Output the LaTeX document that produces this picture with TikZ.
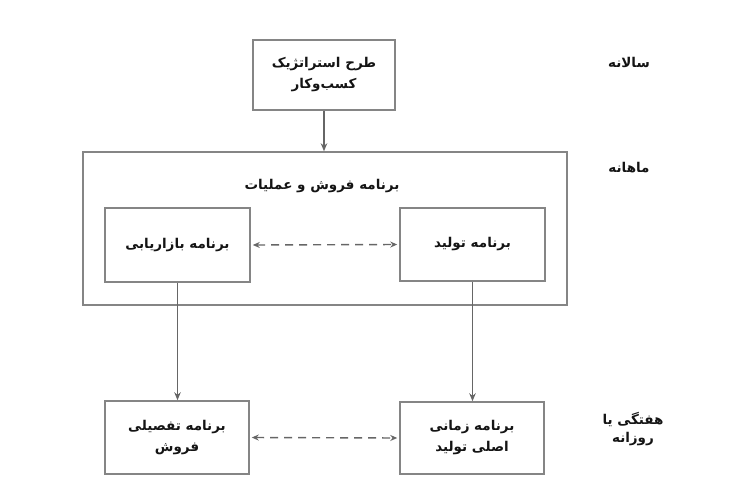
\documentclass[tikz,border=0pt]{standalone}
\usepackage{fontspec}
\usetikzlibrary{arrows.meta}
\TeXXeTstate=1
\newfontfamily\arabicfont[Script=Arabic]{DejaVu Sans}
\definecolor{framegray}{HTML}{858585}
\definecolor{linkgray}{HTML}{666666}
\newcommand{\fa}[1]{\beginR #1\endR}
\begin{document}
\begin{tikzpicture}[x=1pt,y=-1pt,
  every node/.style={font=\arabicfont\bfseries\fontsize{13.5}{21}\selectfont, text=black!92},
  planbox/.style={draw=framegray, line width=1.5pt, fill=white, align=center, inner sep=0pt},
  flow/.style={draw=linkgray, line width=1.4pt, -{Stealth[length=8pt,width=6.5pt]}},
  peer/.style={draw=linkgray, line width=1.4pt, dash pattern=on 8pt off 6pt,
    {Stealth[length=7pt,width=6pt]}-{Stealth[length=7pt,width=6pt]}, shorten <=2pt, shorten >=2pt},
  period/.style={align=center}
]
\useasboundingbox (0,0) rectangle (750,487);

% strategic level
\node[planbox, minimum width=142pt, minimum height=70pt] (strat) at (324,75)
  {\fa{طرح استراتژیک}\\\fa{کسب‌وکار}};

% S&OP frame with its two plans
\node[planbox, fill=none, minimum width=484pt, minimum height=153pt] (sop) at (325,228.5) {};
\node (soptitle) at (322,186) {\fa{برنامه فروش و عملیات}};
\node[planbox, minimum width=145pt, minimum height=74pt] (mkt) at (177.5,245) {\fa{برنامه بازاریابی}};
\node[planbox, minimum width=145pt, minimum height=73pt] (prod) at (472.5,244.5) {\fa{برنامه تولید}};

% detailed plans
\node[planbox, minimum width=144pt, minimum height=73pt] (sales) at (177,437.5)
  {\fa{برنامه تفصیلی}\\\fa{فروش}};
\node[planbox, minimum width=144pt, minimum height=72pt] (mps) at (472,438)
  {\fa{برنامه زمانی}\\\fa{اصلی تولید}};

% planning horizons
\node[period] (yearly) at (629,62) {\fa{سالانه}};
\node[period] (monthly) at (629,168) {\fa{ماهانه}};
\node[period, font=\arabicfont\bfseries\fontsize{13.5}{18}\selectfont] (weekly) at (633,429) {\fa{هفتگی یا}\\\fa{روزانه}};

% links
\draw[flow] (strat.south) -- (strat.south |- sop.north);
\draw[flow] (mkt.south) -- (mkt.south |- sales.north);
\draw[flow] (prod.south) -- (prod.south |- mps.north);
\draw[peer] (mkt.east) -- (prod.west);
\draw[peer] (sales.east) -- (mps.west);
\end{tikzpicture}
\end{document}
